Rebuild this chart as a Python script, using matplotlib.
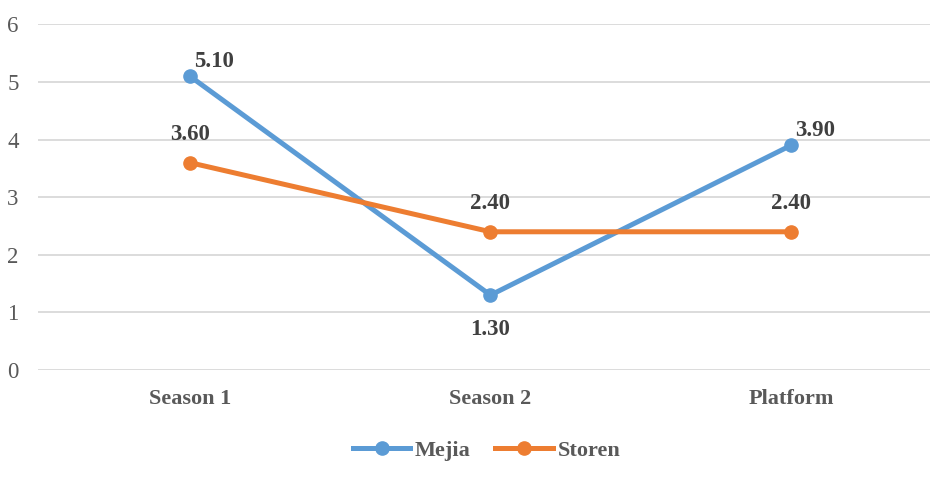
import matplotlib.pyplot as plt

categories = ["Season 1", "Season 2", "Platform"]
mejia = [5.10, 1.30, 3.90]
storen = [3.60, 2.40, 2.40]

plt.rcParams['font.family'] = ['Liberation Serif', 'DejaVu Serif']

blue = '#5B9BD5'
orange = '#ED7D31'

fig = plt.figure(figsize=(9.3, 4.79), dpi=100)
ax = fig.add_axes([0.0409, 0.2276, 0.9591, 0.7213])

x = list(range(len(categories)))
ax.plot(x, mejia, color=blue, lw=3.6, marker='o', ms=9.5, label='Mejia', zorder=3)
ax.plot(x, storen, color=orange, lw=3.6, marker='o', ms=9.5, label='Storen', zorder=3)

# data labels
for i, v in enumerate(mejia):
    if i == 1:
        ax.annotate(f"{v:.2f}", (i, v), xytext=(0, -17), textcoords='offset points',
                    ha='center', va='top', fontsize=16.5, fontweight='bold', color='#404040')
    else:
        ax.annotate(f"{v:.2f}", (i, v), xytext=(3, 3), textcoords='offset points',
                    ha='left', va='bottom', fontsize=16.5, fontweight='bold', color='#404040')
for i, v in enumerate(storen):
    ax.annotate(f"{v:.2f}", (i, v), xytext=(0, 13), textcoords='offset points',
                ha='center', va='bottom', fontsize=16.5, fontweight='bold', color='#404040')

ax.set_ylim(0, 6)
ax.set_xlim(-0.506, 2.463)
ax.set_yticks(range(7))
ax.set_xticks(x)
ax.set_xticklabels(categories, fontsize=16, fontweight='bold', color='#595959')
ax.tick_params(axis='y', labelsize=16.5, labelcolor='#595959', length=0, pad=14)
ax.tick_params(axis='x', length=0, pad=14)
ax.grid(axis='y', color='#D9D9D9', lw=1.3)
ax.set_axisbelow(True)
for s in ax.spines.values():
    s.set_visible(False)

leg = fig.legend(loc='center', bbox_to_anchor=(0.523, 0.06), ncol=2, frameon=False,
                 prop={'size': 16, 'weight': 'bold'}, handlelength=2.6, columnspacing=1.1,
                 handletextpad=0.2)
for t in leg.get_texts():
    t.set_color('#595959')

fig.savefig("out.png", dpi=100)
plt.close(fig)
